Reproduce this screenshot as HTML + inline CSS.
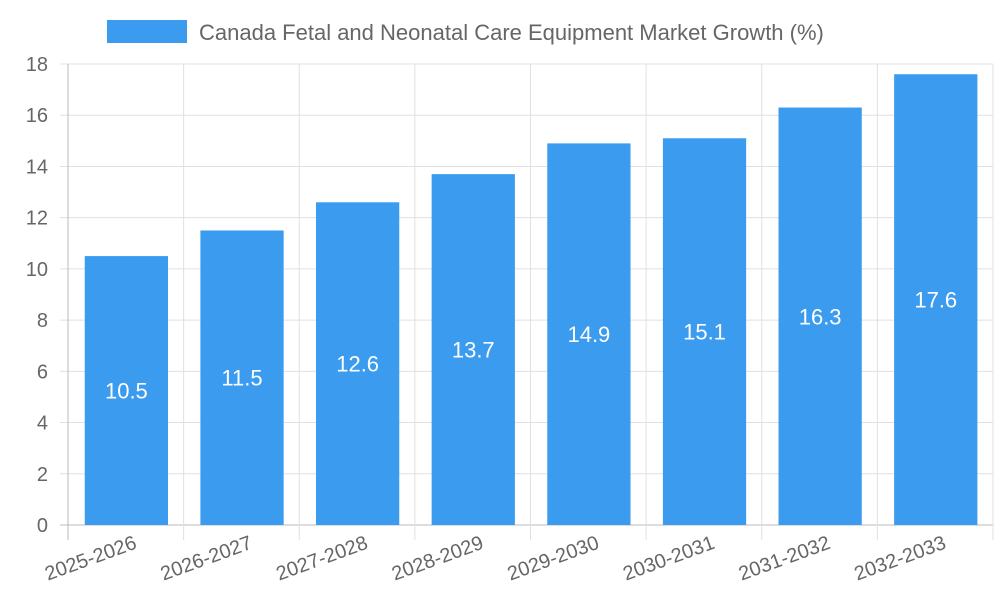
<!DOCTYPE html>
<html><head><meta charset="utf-8"><style>
body{margin:0;background:#fff;}
svg{display:block;font-family:"Liberation Sans",sans-serif;}
</style></head><body>
<svg id="chart" width="1000" height="600">
<g>
<rect x="107" y="20" width="80" height="23" fill="#3a9bef"></rect>
<text x="199" y="40" font-size="22" fill="#666">Canada Fetal and Neonatal Care Equipment Market Growth (%)</text>
</g>
<g id="grid"></g><g id="bars"></g><g id="labels"></g>
</svg>
<script>
const categories=["2025-2026","2026-2027","2027-2028","2028-2029","2029-2030","2030-2031","2031-2032","2032-2033"];
const values=[10.5,11.5,12.6,13.7,14.9,15.1,16.3,17.6];
const yTicks=[0,2,4,6,8,10,12,14,16,18];
const NS="http://www.w3.org/2000/svg";
const L=68,R=993,T=64,B=525,yMax=18;
const bw=(R-L)/categories.length;
const y=v=>B-(v/yMax)*(B-T);
const x=i=>L+i*bw;
const grid=document.getElementById('grid'),bars=document.getElementById('bars'),labels=document.getElementById('labels');
function mk(tag,attrs,parent){const e=document.createElementNS(NS,tag);for(const k in attrs)e.setAttribute(k,attrs[k]);parent.appendChild(e);return e;}
yTicks.forEach(t=>{
 const ln=mk('line',{x1:L-8,x2:R,y1:y(t),y2:y(t),stroke:t===0?'#bbb':'#e0e0e0','stroke-width':1},grid);
 
 
 const tx=mk('text',{x:L-20,y:y(t)+7,'text-anchor':'end','font-size':20,fill:'#666'},labels);
 tx.textContent=t;
 
 
});
for(let i=0;i<=categories.length;i++){
 const ln=mk('line',{x1:x(i),x2:x(i),y1:T,y2:B+15,stroke:i===0?'#bbb':'#e0e0e0','stroke-width':1},grid);
 
 
}
categories.forEach((c,i)=>{
 const v=values[i];
 const bx=x(i)+bw*0.145,w=bw*0.72;
 const r=mk('rect',{x:bx,y:y(v),width:w,height:B-y(v),fill:'#3a9bef'},bars);
 
 
 const vt=mk('text',{x:bx+w/2,y:(y(v)+B)/2+8,'text-anchor':'middle','font-size':22,fill:'#fff'},labels);
 vt.textContent=v;
 
 
 const cx=x(i)+bw/2+12,cy=548;
 const ct=mk('text',{x:cx,y:cy,'text-anchor':'end','font-size':20,fill:'#666',transform:`rotate(-20 ${cx} ${cy})`},labels);
 ct.textContent=c;
 
 
});
</script>
</body></html>
